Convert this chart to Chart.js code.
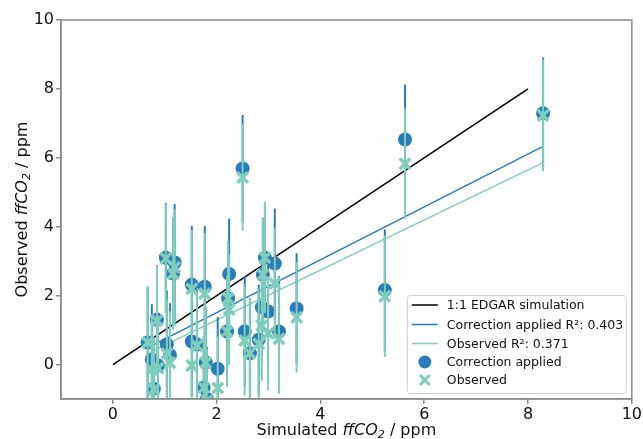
<!DOCTYPE html>
<html>
<head>
<meta charset="utf-8">
<script src="https://cdn.jsdelivr.net/npm/chart.js@4.4.0/dist/chart.umd.min.js"></script>
<style>
html,body{margin:0;padding:0;background:#fff}
#cv{display:block}
</style>
</head>
<body>
<canvas id="cv" width="643" height="439"></canvas>
<script>
// ═══ DATA ═══
var simX  =[0.67,0.75,0.79,0.85,0.87,1.02,1.19,1.16,1.04,1.10,1.52,1.77,1.52,1.62,1.79,2.02,1.75,1.81,2.24,2.22,2.20,2.54,2.64,2.50,2.93,3.12,2.89,2.87,2.99,3.54,2.81,3.20,5.24,5.63,8.29];
var corrY =[0.64,0.15,-0.70,1.30,-0.03,3.10,2.96,2.64,0.58,0.28,2.32,2.26,0.67,0.58,0.06,-0.12,-0.67,-0.99,2.63,1.92,0.96,0.96,0.33,5.69,3.10,2.93,2.61,1.66,1.54,1.63,0.72,0.96,2.16,6.53,7.29];
var obsY  =[0.64,-0.15,-0.72,1.28,-0.10,3.08,2.82,2.64,0.32,0.05,2.20,2.06,-0.03,0.55,0.06,-0.68,-0.67,-1.05,1.60,1.92,0.96,0.70,0.33,5.43,3.10,2.35,2.61,1.13,0.90,1.37,0.60,0.75,1.98,5.83,7.23];
var errY  =[1.62,1.60,1.50,1.58,1.50,1.58,1.70,1.62,1.57,1.50,1.70,1.76,1.60,1.60,1.60,1.50,1.50,1.50,1.60,1.65,1.60,1.60,1.60,1.55,1.60,1.60,1.65,1.60,1.65,1.60,1.60,1.60,1.76,1.60,1.62];

var oneX=[0,8], oneY=[0,8];
var fitX=[0.79,8.29];
var corrFitY=[0.58,6.33];
var obsFitY=[0.41,5.86];

var xTicks=[0,2,4,6,8,10];
var yTicks=[0,2,4,6,8,10];

var legendLabels=['1:1 EDGAR simulation','Correction applied R\u00b2: 0.403','Observed R\u00b2: 0.371','Correction applied','Observed'];

var BLUE='#2b7bba', GREEN='#7fcdbb', GREY='#8c8c8c';
var FONT='"DejaVu Sans", sans-serif';

function pts(xs,ys){return xs.map(function(x,i){return{x:x,y:ys[i]};});}
function bars(xs,ys,es){
  var out=[];
  xs.forEach(function(x,i){out.push({x:x,y:ys[i]-es[i]},{x:x,y:ys[i]+es[i]},{x:x,y:null});});
  return out;
}

// axis titles with italic ffCO and subscript 2
function drawMixed(ctx,parts,cx,cy){
  var w=0;
  parts.forEach(function(p){ctx.font=p.f;p.w=ctx.measureText(p.t).width;w+=p.w;});
  var x=cx-w/2;
  ctx.textBaseline='alphabetic';ctx.textAlign='left';ctx.fillStyle='#111';
  parts.forEach(function(p){ctx.font=p.f;ctx.fillText(p.t,x,cy+(p.dy||0));x+=p.w;});
}
function titleParts(word){
  return [{t:word+' ',f:'16px '+FONT},{t:'ffCO',f:'italic 16px '+FONT},{t:'2',f:'italic 11px '+FONT,dy:3},{t:' / ppm',f:'16px '+FONT}];
}

var decor={
  id:'decor',
  afterDraw:function(chart){
    var ctx=chart.ctx,a=chart.chartArea;
    ctx.save();
    // frame
    ctx.strokeStyle=GREY;ctx.lineWidth=1.5;
    ctx.strokeRect(a.left,a.top,a.right-a.left,a.bottom-a.top);
    // x title
    drawMixed(ctx,titleParts('Simulated'),(a.left+a.right)/2,435);
    // y title
    ctx.translate(27,(a.top+a.bottom)/2);ctx.rotate(-Math.PI/2);
    drawMixed(ctx,titleParts('Observed'),0,0);
    ctx.restore();

    // legend
    ctx.save();
    var bw=219,bh=98,bx=a.right-6-bw,by=a.bottom-6-bh;
    ctx.fillStyle='rgba(255,255,255,0.85)';ctx.strokeStyle='#d0d0d0';ctx.lineWidth=1;
    ctx.beginPath();
    if(ctx.roundRect)ctx.roundRect(bx+0.5,by+0.5,bw,bh,3);else ctx.rect(bx+0.5,by+0.5,bw,bh);
    ctx.fill();ctx.stroke();
    var rowY=[by+10,by+29.5,by+48.5,by+67,by+85];
    var hx0=bx+5,hx1=bx+31,hm=bx+18,tx=bx+40;
    var lineCols=['#000',BLUE,GREEN];
    for(var i=0;i<3;i++){
      ctx.strokeStyle=lineCols[i];ctx.lineWidth=1.5;
      ctx.beginPath();ctx.moveTo(hx0,rowY[i]);ctx.lineTo(hx1,rowY[i]);ctx.stroke();
    }
    Chart.helpers.drawPoint(ctx,{pointStyle:'circle',radius:6.5,borderWidth:0},hm,rowY[3]);
    ctx.fillStyle=BLUE;ctx.beginPath();ctx.arc(hm,rowY[3],6.5,0,Math.PI*2);ctx.fill();
    ctx.strokeStyle=GREEN;ctx.lineWidth=3;
    Chart.helpers.drawPoint(ctx,{pointStyle:'crossRot',radius:7,borderWidth:3},hm,rowY[4]);
    ctx.fillStyle='#111';ctx.font='12.5px '+FONT;ctx.textBaseline='middle';ctx.textAlign='left';
    legendLabels.forEach(function(t,i){ctx.fillText(t,tx,rowY[i]+1);});
    ctx.restore();
  }
};

var tickFont={family:'DejaVu Sans',size:16};

new Chart(document.getElementById('cv'),{
  type:'scatter',
  data:{datasets:[
    {type:'line',data:pts(oneX,oneY),borderColor:'#000',borderWidth:1.5,pointRadius:0,order:9},
    {type:'line',data:pts(fitX,corrFitY),borderColor:BLUE,borderWidth:1.5,pointRadius:0,order:8},
    {type:'line',data:pts(fitX,obsFitY),borderColor:GREEN,borderWidth:1.5,pointRadius:0,order:7},
    {type:'line',data:bars(simX,corrY,errY),borderColor:BLUE,borderWidth:2,pointRadius:0,spanGaps:false,order:4},
    {data:pts(simX,corrY),backgroundColor:BLUE,borderWidth:0,pointRadius:7,pointStyle:'circle',order:3},
    {type:'line',data:bars(simX,obsY,errY),borderColor:GREEN,borderWidth:2,pointRadius:0,spanGaps:false,order:2},
    {data:pts(simX,obsY),borderColor:GREEN,backgroundColor:GREEN,borderWidth:3.5,pointRadius:7.5,pointStyle:'crossRot',order:1}
  ]},
  options:{
    responsive:false,animation:false,devicePixelRatio:1,
    layout:{padding:{top:20,right:11,left:0,bottom:0}},
    plugins:{legend:{display:false},tooltip:{enabled:false}},
    scales:{
      x:{type:'linear',min:-1,max:10,
        afterBuildTicks:function(s){s.ticks=xTicks.map(function(v){return{value:v};});},
        afterFit:function(s){s.height=40;},
        grid:{display:true,drawOnChartArea:false,drawTicks:true,tickLength:5,color:GREY,lineWidth:1.5},
        border:{display:true,color:GREY,width:1.5},
        ticks:{font:tickFont,color:'#111',padding:1,maxRotation:0}},
      y:{type:'linear',min:-1,max:10,
        afterBuildTicks:function(s){s.ticks=yTicks.map(function(v){return{value:v};});},
        afterFit:function(s){s.width=61;},
        grid:{display:true,drawOnChartArea:false,drawTicks:true,tickLength:5,color:GREY,lineWidth:1.5},
        border:{display:true,color:GREY,width:1.5},
        ticks:{font:tickFont,color:'#111',padding:2}}
    }
  },
  plugins:[decor]
});
</script>
</body>
</html>
